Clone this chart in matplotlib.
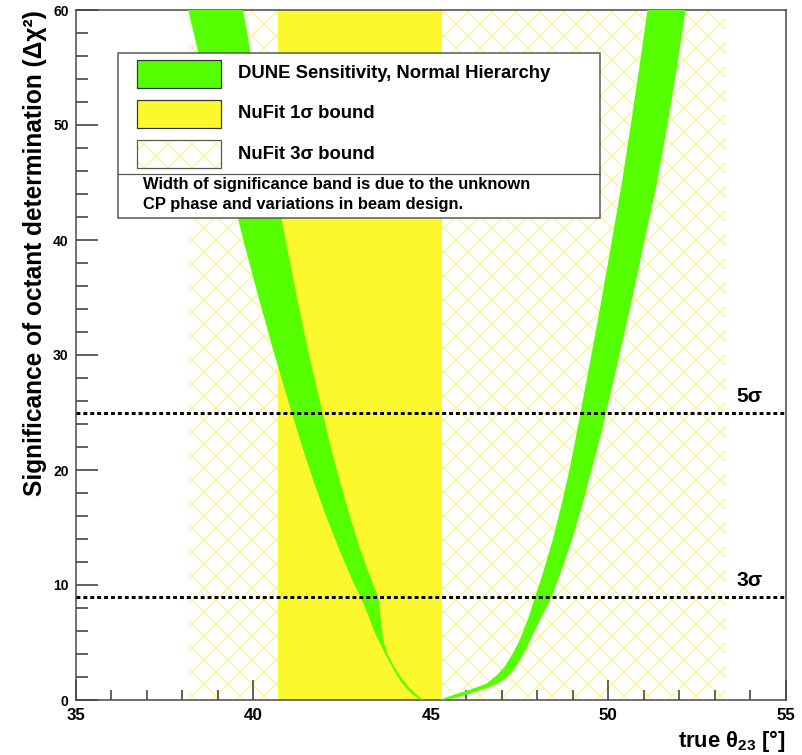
import numpy as np
import matplotlib.pyplot as plt
from matplotlib.patches import Rectangle
from matplotlib.ticker import MultipleLocator

plt.rcParams['font.family'] = ['Liberation Sans', 'DejaVu Sans']
plt.rcParams['font.weight'] = 'bold'
plt.rcParams['mathtext.fontset'] = 'custom'
plt.rcParams['mathtext.rm'] = 'Liberation Sans:bold'
plt.rcParams['mathtext.it'] = 'Liberation Sans:bold'
plt.rcParams['mathtext.bf'] = 'Liberation Sans:bold'
plt.rcParams['hatch.linewidth'] = 1.5

# DUNE octant sensitivity band (theta23 in deg, delta chi2)
# left branch: outer edge (higher chi2) and inner edge (lower chi2)
left_outer_chi2 = [60, 55, 50, 45, 40, 35, 30, 25, 22, 19, 16, 13, 10, 8.9, 7.5, 6.0, 4.6, 3.5, 2.5, 1.6, 0.9, 0.4, 0]
left_outer_theta = [38.17, 38.55, 38.93, 39.32, 39.72, 40.15, 40.60, 41.08, 41.38, 41.70, 42.05, 42.43,
                    42.85, 43.03, 43.22, 43.40, 43.62, 43.80, 43.98, 44.16, 44.35, 44.52, 44.72]
left_inner_chi2 = [60, 55, 50, 45, 40, 35, 30, 25, 22, 19, 16, 13, 10, 8.9, 7.5, 6.4, 5.2, 4.0, 3.0, 2.0, 1.2, 0.6, 0]
left_inner_theta = [39.71, 40.00, 40.30, 40.60, 40.91, 41.23, 41.57, 41.95, 42.18, 42.44, 42.72, 43.02,
                    43.38, 43.52, 43.57, 43.61, 43.66, 43.78, 43.95, 44.15, 44.35, 44.55, 44.78]

# right branch
right_outer_chi2 = [0, 0.3, 0.6, 1.0, 1.45, 2.2, 2.9, 4.0, 5.2, 7.0, 8.8, 11, 13.9, 17, 19.7, 22, 24.9,
                    30, 34.2, 40, 45, 50, 55, 60]
right_outer_theta = [45.25, 45.50, 45.80, 46.20, 46.58, 46.87, 47.08, 47.30, 47.50, 47.73, 47.92, 48.15,
                     48.43, 48.68, 48.88, 49.03, 49.21, 49.52, 49.77, 50.10, 50.38, 50.63, 50.87, 51.10]
right_inner_chi2 = [0, 0.15, 0.35, 0.6, 1.0, 1.45, 1.9, 2.4, 2.9, 4.0, 5.2, 7.0, 8.8, 11, 13.9, 17, 19.7,
                    22, 24.9, 30, 34.2, 40, 45, 50, 55, 60]
right_inner_theta = [45.25, 45.65, 45.90, 46.15, 46.55, 46.90, 47.11, 47.27, 47.40, 47.61, 47.80, 48.08,
                     48.38, 48.65, 48.97, 49.27, 49.50, 49.70, 49.93, 50.31, 50.62, 51.02, 51.37, 51.66,
                     51.93, 52.17]

# NuFit ranges
nufit_1sigma = (40.7, 45.3)
nufit_3sigma = (38.2, 53.3)

# significance levels
sigma_levels = [25, 9]
sigma_labels = ['5σ', '3σ']

legend_labels = ['DUNE Sensitivity, Normal Hierarchy', 'NuFit 1σ bound', 'NuFit 3σ bound']
note_lines = ['Width of significance band is due to the unknown',
              'CP phase and variations in beam design.']

green = '#55ff00'
yellow = '#fbf82e'
hatch_col = '#f8f4a0'

fig = plt.figure(figsize=(802/72, 755/72), dpi=72)
ax = fig.add_axes([75.7/802, 55/755, 710.3/802, 690/755])

# bands
ax.axvspan(*nufit_3sigma, facecolor='none', edgecolor=hatch_col, hatch='x', lw=0, zorder=1)
ax.axvspan(*nufit_1sigma, facecolor=yellow, lw=0, zorder=2)

ax.fill(np.concatenate([left_outer_theta, left_inner_theta[::-1]]),
        np.concatenate([left_outer_chi2, left_inner_chi2[::-1]]),
        color=green, lw=0, zorder=3)
ax.fill(np.concatenate([right_outer_theta, right_inner_theta[::-1]]),
        np.concatenate([right_outer_chi2, right_inner_chi2[::-1]]),
        color=green, lw=0, zorder=3)

# 5 sigma / 3 sigma lines
for lvl, lab in zip(sigma_levels, sigma_labels):
    ax.axhline(lvl, color='black', lw=3, ls=(0, (1.3, 1.0)), zorder=4)
    ax.text(0.949, lvl + 0.6, lab, transform=ax.get_yaxis_transform(),
            fontsize=21, ha='center', va='bottom', zorder=5)

# legend box (ROOT style, drawn by hand)
bx0, bx1, by0, by1 = 0.0596, 0.738, 0.6986, 0.9377
ax.add_patch(Rectangle((bx0, by0), bx1 - bx0, by1 - by0, transform=ax.transAxes,
                       fc='white', ec='#555555', lw=1.5, zorder=10))
ax.plot([bx0, bx1], [0.7623, 0.7623], transform=ax.transAxes, color='#555555', lw=1.2, zorder=11)

sw_x, sw_w, sw_h = 0.0863, 0.1183, 0.0406
sw_bottoms = [0.887, 0.829, 0.771]
ax.add_patch(Rectangle((sw_x, sw_bottoms[0]), sw_w, sw_h, transform=ax.transAxes,
                       fc=green, ec='#333333', lw=1.2, zorder=11))
ax.add_patch(Rectangle((sw_x, sw_bottoms[1]), sw_w, sw_h, transform=ax.transAxes,
                       fc=yellow, ec='#333333', lw=1.2, zorder=11))
ax.add_patch(Rectangle((sw_x, sw_bottoms[2]), sw_w, sw_h, transform=ax.transAxes,
                       fc='white', ec=hatch_col, hatch='x', lw=0, zorder=11))
ax.add_patch(Rectangle((sw_x, sw_bottoms[2]), sw_w, sw_h, transform=ax.transAxes,
                       fc='none', ec='#555555', lw=1.2, zorder=12))
for lab, yb in zip(legend_labels, sw_bottoms):
    ax.text(0.2285, yb + sw_h / 2, lab, transform=ax.transAxes, fontsize=18.5,
            va='center', ha='left', zorder=12)
for txt, yy in zip(note_lines, [0.7478, 0.7188]):
    ax.text(0.0947, yy, txt, transform=ax.transAxes, fontsize=16.5,
            va='center', ha='left', zorder=12)

# axes
ax.set_xlim(35, 55)
ax.set_ylim(0, 60)
ax.xaxis.set_major_locator(MultipleLocator(5))
ax.xaxis.set_minor_locator(MultipleLocator(1))
ax.yaxis.set_major_locator(MultipleLocator(10))
ax.yaxis.set_minor_locator(MultipleLocator(2))
ax.tick_params(which='both', direction='in', color='#333333', width=1.5, top=False, right=False)
ax.tick_params(axis='x', which='major', length=20, labelsize=17, pad=8)
ax.tick_params(axis='x', which='minor', length=10)
ax.tick_params(axis='y', which='major', length=22, labelsize=14, pad=7)
ax.tick_params(axis='y', which='minor', length=12)
for sp in ax.spines.values():
    sp.set_color('#444444')
    sp.set_linewidth(1.5)

ax.set_ylabel('Significance of octant determination (Δχ²)', fontsize=24.5,
              fontweight='bold', loc='top')
ax.yaxis.set_label_coords(-0.04, 1.0)
ax.set_xlabel(r'true $\theta_{23}$ [°]', fontsize=22, fontweight='bold', loc='right', va='top')
ax.xaxis.set_label_coords(1.0, -0.04)

fig.savefig('out.png', dpi=72)
